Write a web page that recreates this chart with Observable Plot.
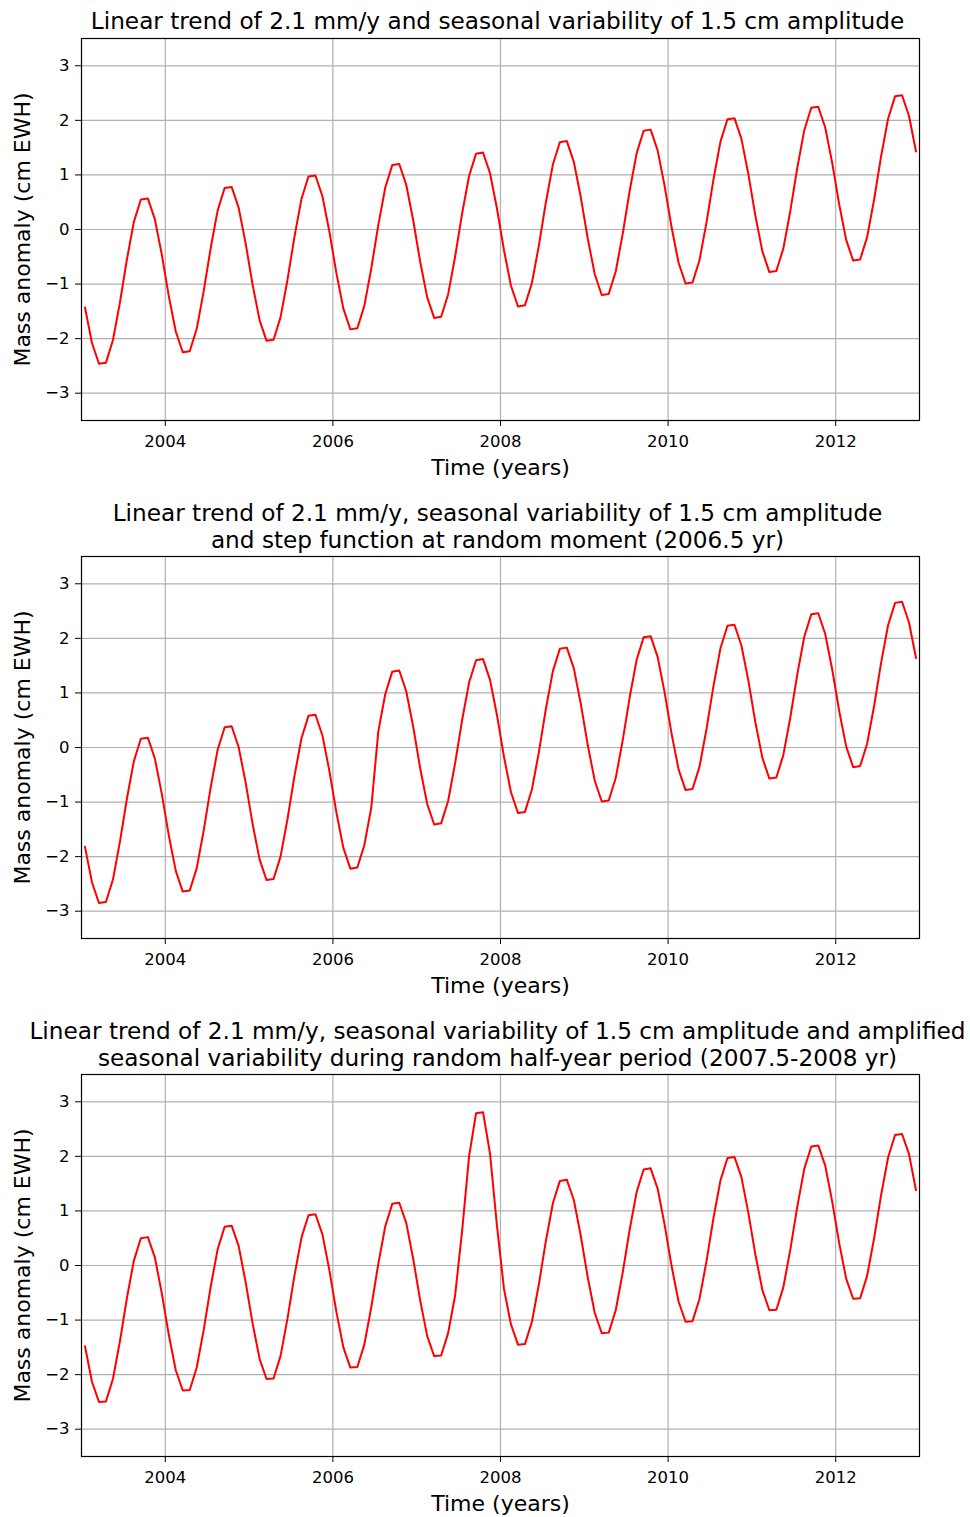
<!DOCTYPE html>
<html><head><meta charset="utf-8">
<script src="https://cdn.jsdelivr.net/npm/d3@7"></script>
<script src="https://cdn.jsdelivr.net/npm/@observablehq/plot@0.6"></script>
<style>
body{margin:0;background:#fff;}
#chart{width:970px;}
#chart svg{display:block;}
</style></head><body><div id="chart"></div>
<script>
// Monthly samples, mid-month, Jan 2003 .. Dec 2012
const startYear = 2003;
const tickYears = [2004, 2006, 2008, 2010, 2012];
const tickValuesY = [-3, -2, -1, 0, 1, 2, 3];
const xLabel = "Time (years)";
const yLabel = "Mass anomaly (cm EWH)";

const titles = [
  "Linear trend of 2.1 mm/y and seasonal variability of 1.5 cm amplitude",
  "Linear trend of 2.1 mm/y, seasonal variability of 1.5 cm amplitude\nand step function at random moment (2006.5 yr)",
  "Linear trend of 2.1 mm/y, seasonal variability of 1.5 cm amplitude and amplified\nseasonal variability during random half-year period (2007.5-2008 yr)"
];

const trendSeasonal = [
  -1.43, -2.08, -2.46, -2.44, -2.03, -1.34, -0.55, 0.14, 0.55, 0.57, 0.19, -0.46,
  -1.22, -1.87, -2.25, -2.23, -1.82, -1.13, -0.34, 0.35, 0.76, 0.78, 0.40, -0.25,
  -1.01, -1.66, -2.04, -2.02, -1.61, -0.92, -0.13, 0.56, 0.97, 0.99, 0.61, -0.04,
  -0.80, -1.45, -1.83, -1.81, -1.40, -0.71, 0.08, 0.77, 1.18, 1.20, 0.82, 0.17,
  -0.59, -1.24, -1.62, -1.60, -1.19, -0.50, 0.29, 0.98, 1.39, 1.41, 1.03, 0.38,
  -0.38, -1.03, -1.41, -1.39, -0.98, -0.29, 0.50, 1.19, 1.60, 1.62, 1.24, 0.59,
  -0.17, -0.82, -1.20, -1.18, -0.77, -0.08, 0.71, 1.40, 1.81, 1.83, 1.45, 0.80,
  0.04, -0.61, -0.99, -0.97, -0.56, 0.13, 0.92, 1.61, 2.02, 2.04, 1.66, 1.01,
  0.25, -0.40, -0.78, -0.76, -0.35, 0.34, 1.13, 1.82, 2.23, 2.25, 1.87, 1.22,
  0.46, -0.19, -0.57, -0.55, -0.14, 0.55, 1.34, 2.03, 2.44, 2.46, 2.08, 1.43
];

const trendSeasonalStep = [
  -1.82, -2.47, -2.85, -2.83, -2.42, -1.73, -0.94, -0.25, 0.16, 0.18, -0.20, -0.85,
  -1.61, -2.26, -2.64, -2.62, -2.21, -1.52, -0.73, -0.04, 0.37, 0.39, 0.01, -0.64,
  -1.40, -2.05, -2.43, -2.41, -2.00, -1.31, -0.52, 0.17, 0.58, 0.60, 0.22, -0.43,
  -1.19, -1.84, -2.22, -2.20, -1.79, -1.10, 0.29, 0.98, 1.39, 1.41, 1.03, 0.38,
  -0.38, -1.03, -1.41, -1.39, -0.98, -0.29, 0.50, 1.19, 1.60, 1.62, 1.24, 0.59,
  -0.17, -0.82, -1.20, -1.18, -0.77, -0.08, 0.71, 1.40, 1.81, 1.83, 1.45, 0.80,
  0.04, -0.61, -0.99, -0.97, -0.56, 0.13, 0.92, 1.61, 2.02, 2.04, 1.66, 1.01,
  0.25, -0.40, -0.78, -0.76, -0.35, 0.34, 1.13, 1.82, 2.23, 2.25, 1.87, 1.22,
  0.46, -0.19, -0.57, -0.55, -0.14, 0.55, 1.34, 2.03, 2.44, 2.46, 2.08, 1.43,
  0.67, 0.02, -0.36, -0.34, 0.07, 0.76, 1.55, 2.24, 2.65, 2.67, 2.29, 1.64
];

const trendSeasonalAmplified = [
  -1.48, -2.13, -2.50, -2.49, -2.08, -1.39, -0.60, 0.09, 0.50, 0.52, 0.15, -0.51,
  -1.27, -1.92, -2.29, -2.28, -1.87, -1.18, -0.39, 0.30, 0.71, 0.73, 0.36, -0.30,
  -1.06, -1.71, -2.08, -2.07, -1.66, -0.97, -0.18, 0.51, 0.92, 0.94, 0.57, -0.09,
  -0.85, -1.50, -1.87, -1.86, -1.45, -0.76, 0.03, 0.72, 1.13, 1.15, 0.78, 0.12,
  -0.64, -1.29, -1.66, -1.65, -1.24, -0.55, 0.63, 2.00, 2.79, 2.81, 2.05, 0.72,
  -0.43, -1.08, -1.45, -1.44, -1.03, -0.34, 0.45, 1.14, 1.55, 1.57, 1.20, 0.54,
  -0.22, -0.87, -1.24, -1.23, -0.82, -0.13, 0.66, 1.35, 1.76, 1.78, 1.41, 0.75,
  -0.01, -0.66, -1.03, -1.02, -0.61, 0.08, 0.87, 1.56, 1.97, 1.99, 1.62, 0.96,
  0.20, -0.45, -0.82, -0.81, -0.40, 0.29, 1.08, 1.77, 2.18, 2.20, 1.83, 1.17,
  0.41, -0.24, -0.61, -0.60, -0.19, 0.50, 1.29, 1.98, 2.39, 2.41, 2.04, 1.38
];

const FONT = "DejaVu Sans, sans-serif";
const TICK_FS = 16.5;
const LABEL_FS = 22;
const TITLE_FS = 23.2;

function panel(values, title, height, marginTop, marginBottom, titleDy) {
  const data = values.map((v, i) => ({t: startYear + (i + 0.5) / 12, v}));
  const fmtY = d => (d < 0 ? "\u2212" + Math.abs(d) : String(d));
  return Plot.plot({
    width: 970,
    height,
    marginTop,
    marginBottom,
    marginLeft: 81,
    marginRight: 51,
    style: {fontFamily: FONT, background: "white", color: "black", overflow: "visible"},
    x: {domain: [2003, 2013]},
    y: {domain: [-3.5, 3.5]},
    marks: [
      Plot.gridX(tickYears, {stroke: "#b0b0b0", strokeOpacity: 1, strokeWidth: 1.2}),
      Plot.gridY(tickValuesY, {stroke: "#b0b0b0", strokeOpacity: 1, strokeWidth: 1.2}),
      Plot.line(data, {x: "t", y: "v", stroke: "red", strokeWidth: 2}),
      Plot.frame({stroke: "black", strokeWidth: 1.2}),
      Plot.axisX(tickYears, {tickSize: 6, tickPadding: 9, tickFormat: d => String(d), fontSize: TICK_FS, label: null}),
      Plot.axisY(tickValuesY, {tickSize: 6, tickPadding: 6, tickFormat: fmtY, fontSize: TICK_FS, label: null}),
      Plot.text([xLabel], {text: d => d, frameAnchor: "bottom", lineAnchor: "middle", textAnchor: "middle", dy: 47, fontSize: LABEL_FS}),
      Plot.text([yLabel], {text: d => d, frameAnchor: "left", lineAnchor: "middle", textAnchor: "middle", rotate: -90, dx: -59, fontSize: LABEL_FS}),
      Plot.text([title], {text: d => d, frameAnchor: "top", lineAnchor: "middle", textAnchor: "middle", dy: titleDy, dx: -3, fontSize: TITLE_FS, lineHeight: 1.16})
    ]
  });
}

const chart = document.getElementById("chart");
chart.append(panel(trendSeasonal, titles[0], 487, 38, 67, -18));
chart.append(panel(trendSeasonalStep, titles[1], 518, 69, 67, -31));
chart.append(panel(trendSeasonalAmplified, titles[2], 512, 69, 61, -31));
</script>
</body></html>
